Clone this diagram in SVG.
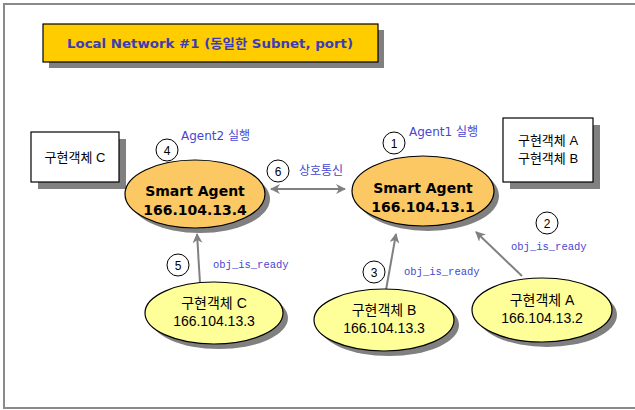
<svg xmlns="http://www.w3.org/2000/svg" width="635" height="410" viewBox="0 0 635 410">
<defs>
<style>
.sh{fill:#808080}
.box{fill:#fff;stroke:#000;stroke-width:1.2}
.agent{fill:#fcc864;stroke:#000;stroke-width:1.2}
.obj{fill:#ffff99;stroke:#000;stroke-width:1.2}
.num{fill:#fff;stroke:#000;stroke-width:1}
.t{font-family:"Liberation Sans","Noto Sans CJK KR",sans-serif;fill:#000}
.ag{font-family:"DejaVu Sans","Noto Sans CJK KR",sans-serif;font-weight:bold;font-size:14px;fill:#000;text-anchor:middle}
.lbl{font-family:"DejaVu Sans","Noto Sans CJK KR",sans-serif;font-size:12px;fill:#4646d2}
.mono{font-family:"Liberation Mono",monospace;font-size:10.5px;fill:#4646d2}
.c{text-anchor:middle}
.conn{stroke:#808080;stroke-width:2;fill:none}
</style>
<marker id="ah" viewBox="0 0 10 10" refX="9" refY="5" markerWidth="5" markerHeight="5" orient="auto-start-reverse">
<path d="M0,0 L10,5 L0,10 L3,5 z" fill="#808080"/>
</marker>
</defs>
<rect x="4" y="4" width="640" height="404" fill="#fff" stroke="#8a8a8a" stroke-width="2"/>

<g id="title">
<rect class="sh" x="49" y="30" width="335" height="38"/>
<rect x="43" y="24" width="335" height="38" fill="#ffcc00" stroke="#000" stroke-width="1.2"/>
<text x="210" y="48" class="c" font-family="DejaVu Sans,'Noto Sans CJK KR',sans-serif" font-weight="bold" font-size="13" fill="#3c3cb4" textLength="286" lengthAdjust="spacingAndGlyphs">Local Network #1 (동일한 Subnet, port)</text>
</g>

<g id="boxC">
<rect class="sh" x="38" y="139" width="88" height="50"/>
<rect class="box" x="31" y="132" width="88" height="50"/>
<text class="t c" x="75" y="162" font-size="13">구현객체 C</text>
</g>

<g id="boxAB">
<rect class="sh" x="510" y="125" width="90" height="64"/>
<rect class="box" x="503" y="118" width="90" height="64"/>
<text class="t c" x="548" y="145" font-size="13">구현객체 A</text>
<text class="t c" x="548" y="163" font-size="13">구현객체 B</text>
</g>

<g id="connectors">
<line class="conn" x1="271" y1="189" x2="345" y2="189" marker-start="url(#ah)" marker-end="url(#ah)"/>
<line class="conn" x1="200" y1="283" x2="197" y2="234" marker-end="url(#ah)"/>
<line class="conn" x1="386" y1="290" x2="396" y2="234" marker-end="url(#ah)"/>
<line class="conn" x1="522" y1="276" x2="476" y2="232" marker-end="url(#ah)"/>
</g>

<g id="agent2">
<ellipse class="sh" cx="200" cy="199" rx="70" ry="34"/>
<ellipse class="agent" cx="195" cy="194" rx="70" ry="34"/>
<text class="ag" x="195" y="196">Smart Agent</text>
<text class="ag" x="195" y="215">166.104.13.4</text>
</g>

<g id="agent1">
<ellipse class="sh" cx="428" cy="196" rx="71" ry="35"/>
<ellipse class="agent" cx="423" cy="191" rx="71" ry="35"/>
<text class="ag" x="423" y="193">Smart Agent</text>
<text class="ag" x="423" y="212">166.104.13.1</text>
</g>

<g id="objC">
<ellipse class="sh" cx="219" cy="318" rx="69" ry="31"/>
<ellipse class="obj" cx="214" cy="313" rx="69" ry="31"/>
<text class="t c" x="214" y="308" font-size="14">구현객체 C</text>
<text class="t c" x="214" y="326" font-size="14">166.104.13.3</text>
</g>

<g id="objB">
<ellipse class="sh" cx="389" cy="325" rx="70" ry="31"/>
<ellipse class="obj" cx="384" cy="320" rx="70" ry="31"/>
<text class="t c" x="384" y="315" font-size="14">구현객체 B</text>
<text class="t c" x="384" y="333" font-size="14">166.104.13.3</text>
</g>

<g id="objA">
<ellipse class="sh" cx="547" cy="315" rx="70" ry="32"/>
<ellipse class="obj" cx="542" cy="310" rx="70" ry="32"/>
<text class="t c" x="542" y="305" font-size="14">구현객체 A</text>
<text class="t c" x="542" y="323" font-size="14">166.104.13.2</text>
</g>

<g id="step1"><circle class="num" cx="394" cy="143" r="11"/><text class="t c" x="394" y="148" font-size="12">1</text></g>
<g id="step2"><circle class="num" cx="547" cy="223" r="11"/><text class="t c" x="547" y="228" font-size="12">2</text></g>
<g id="step3"><circle class="num" cx="374" cy="272" r="11"/><text class="t c" x="374" y="277" font-size="12">3</text></g>
<g id="step4"><circle class="num" cx="167" cy="150" r="11"/><text class="t c" x="167" y="155" font-size="12">4</text></g>
<g id="step5"><circle class="num" cx="178" cy="265" r="11"/><text class="t c" x="178" y="270" font-size="12">5</text></g>
<g id="step6"><circle class="num" cx="278" cy="171" r="11"/><text class="t c" x="278" y="176" font-size="12">6</text></g>

<g id="labels">
<text class="lbl" x="181" y="140">Agent2 실행</text>
<text class="lbl" x="409" y="136">Agent1 실행</text>
<text class="lbl" x="299" y="175">상호통신</text>
<text class="mono" x="511" y="250">obj_is_ready</text>
<text class="mono" x="213" y="268">obj_is_ready</text>
<text class="mono" x="404" y="275">obj_is_ready</text>
</g>
</svg>
